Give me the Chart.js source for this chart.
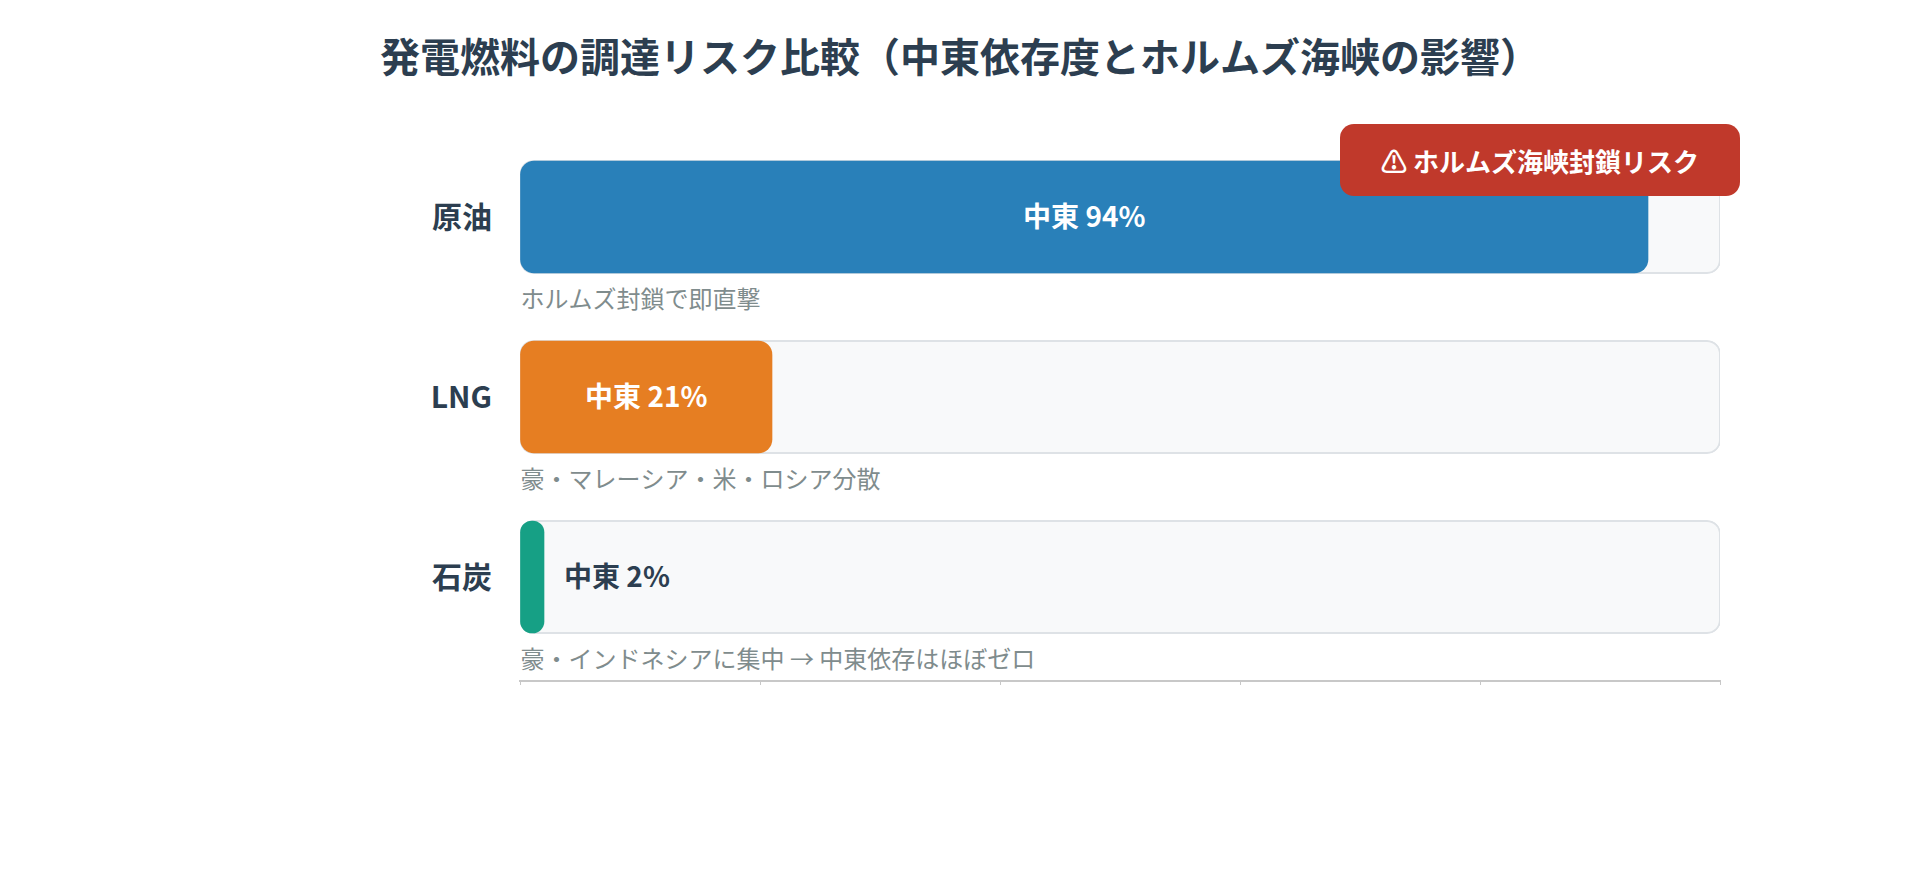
<!DOCTYPE html>
<html lang="ja">
<head>
<meta charset="utf-8">
<title>発電燃料の調達リスク比較</title>
<script src="https://cdn.jsdelivr.net/npm/chart.js@4"></script>
<style>
    html, body { margin: 0; padding: 0; background: #fff; }
    canvas { display: block; }
</style>
</head>
<body>
<canvas id="riskChart" width="1920" height="880"></canvas>
<script>
const titleText = "発電燃料の調達リスク比較（中東依存度とホルムズ海峡の影響）";
const categories = ["原油", "LNG", "石炭"];
const middleEastShare = [94, 21, 2];
const trackValues = [100, 100, 100];
const barColors = ["#2980b9", "#e67e22", "#16a085"];
const notes = [
    "ホルムズ封鎖で即直撃",
    "豪・マレーシア・米・ロシア分散",
    "豪・インドネシアに集中 → 中東依存はほぼゼロ"
];
const badgeText = "⚠ ホルムズ海峡封鎖リスク";
const fontName = '"Noto Sans CJK JP", "Noto Sans", sans-serif';

// ラベル、注記、警告バッジを描くプラグイン
const overlayPlugin = {
    id: "overlay",
    beforeDraw(chart) {
        const c = chart.ctx;
        c.save();
        c.fillStyle = "#ffffff";
        c.fillRect(0, 0, chart.width, chart.height);
        c.restore();
    },
    afterDraw(chart) {
        const c = chart.ctx;
        const bars = chart.getDatasetMeta(0).data;
        c.save();
        c.textBaseline = "middle";
        bars.forEach((bar, i) => {
            const label = "中東 " + middleEastShare[i] + "%";
            const inside = middleEastShare[i] > 10;
            c.font = "bold 28px " + fontName;
            c.fillStyle = inside ? "#ffffff" : "#2c3e50";
            c.textAlign = inside ? "center" : "left";
            c.fillText(label, inside ? (bar.base + bar.x) / 2 : bar.x + 20, bar.y - 1);

            c.font = "24px " + fontName;
            c.fillStyle = "#7f8c8d";
            c.textAlign = "left";
            c.fillText(notes[i], bar.base, bar.y + 82);
        });

        c.fillStyle = "#c0392b";
        c.beginPath();
        c.roundRect(1340, 124, 400, 72, 14);
        c.fill();
        c.font = "bold 26px " + fontName;
        c.fillStyle = "#ffffff";
        c.textAlign = "center";
        c.fillText(badgeText, 1540, 162);
        c.restore();
    }
};

const canvas = document.getElementById("riskChart");
const ctx = canvas.getContext("2d", { alpha: false });

new Chart(ctx, {
    type: "bar",
    plugins: [overlayPlugin],
    data: {
        datasets: [
            {
                data: middleEastShare.map((v, i) => ({ x: v, y: i })),
                backgroundColor: barColors,
                borderRadius: 14,
                borderSkipped: false,
                barThickness: 112,
                grouped: false,
                order: 1
            },
            {
                data: trackValues.map((v, i) => ({ x: v, y: i })),
                backgroundColor: "#f8f9fa",
                borderColor: "#dee2e6",
                borderWidth: 2,
                borderRadius: 14,
                borderSkipped: false,
                inflateAmount: 1,
                barThickness: 112,
                grouped: false,
                order: 2
            }
        ]
    },
    options: {
        indexAxis: "y",
        responsive: false,
        animation: false,
        layout: { padding: { top: 0, right: 200, bottom: 189, left: 200 } },
        plugins: {
            legend: { display: false },
            tooltip: { enabled: false },
            title: {
                display: true,
                text: titleText,
                color: "#2c3e50",
                font: { family: fontName, size: 40, weight: "bold", lineHeight: 1.2 },
                padding: { top: 33, bottom: 60 }
            }
        },
        scales: {
            x: {
                type: "linear",
                min: 0,
                max: 100,
                afterFit: (scale) => { scale.height = 10; },
                ticks: { stepSize: 20, callback: () => "" },
                grid: { drawOnChartArea: false, tickLength: 4, color: "#c8c8c8" },
                border: { color: "#c8c8c8", width: 2 }
            },
            y: {
                type: "linear",
                reverse: true,
                offset: false,
                min: -76 / 180,
                max: 464 / 180,
                afterFit: (scale) => { scale.width = 320; },
                afterBuildTicks: (scale) => {
                    scale.ticks = categories.map((_, i) => ({ value: i }));
                },
                ticks: {
                    autoSkip: false,
                    padding: 20,
                    color: "#2c3e50",
                    font: { family: fontName, size: 30, weight: "bold" },
                    callback: (v) => categories[v]
                },
                grid: { display: false, offset: false },
                border: { display: false }
            }
        }
    }
});
</script>
</body>
</html>
